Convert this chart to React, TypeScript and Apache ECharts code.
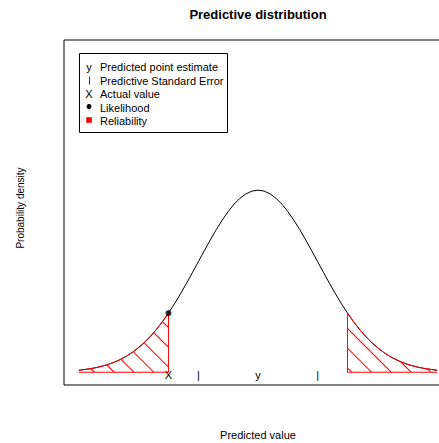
import React, { useEffect, useRef } from "react";
import * as echarts from "echarts";

// Standardised predicted values (in units of the predictive standard error)
const predictedX = [
  -3.0, -2.9, -2.8, -2.7, -2.6, -2.5, -2.4, -2.3, -2.2, -2.1,
  -2.0, -1.9, -1.8, -1.7, -1.6, -1.5, -1.4, -1.3, -1.2, -1.1,
  -1.0, -0.9, -0.8, -0.7, -0.6, -0.5, -0.4, -0.3, -0.2, -0.1,
  0.0, 0.1, 0.2, 0.3, 0.4, 0.5, 0.6, 0.7, 0.8, 0.9,
  1.0, 1.1, 1.2, 1.3, 1.4, 1.5, 1.6, 1.7, 1.8, 1.9,
  2.0, 2.1, 2.2, 2.3, 2.4, 2.5, 2.6, 2.7, 2.8, 2.9, 3.0,
];

// Probability density of the predictive distribution at each value
const density = [
  0.0044, 0.006, 0.0079, 0.0104, 0.0136, 0.0175, 0.0224, 0.0283, 0.0355, 0.044,
  0.054, 0.0656, 0.079, 0.094, 0.1109, 0.1295, 0.1497, 0.1714, 0.1942, 0.2179,
  0.242, 0.2661, 0.2897, 0.3123, 0.3332, 0.3521, 0.3683, 0.3814, 0.391, 0.397,
  0.3989, 0.397, 0.391, 0.3814, 0.3683, 0.3521, 0.3332, 0.3123, 0.2897, 0.2661,
  0.242, 0.2179, 0.1942, 0.1714, 0.1497, 0.1295, 0.1109, 0.094, 0.079, 0.0656,
  0.054, 0.044, 0.0355, 0.0283, 0.0224, 0.0175, 0.0136, 0.0104, 0.0079, 0.006, 0.0044,
];

const pointEstimate = 0;
const standardError = 1;
const actualValue = -1.5;
const likelihood = 0.1295;

const baselineMarks = [
  { x: actualValue, label: "X" },
  { x: pointEstimate - standardError, label: "|" },
  { x: pointEstimate + standardError, label: "|" },
  { x: pointEstimate, label: "y" },
];

const legendLabels = [
  "Predicted point estimate",
  "Predictive Standard Error",
  "Actual value",
  "Likelihood",
  "Reliability",
];

const FONT = "'Liberation Sans', Arial, Helvetica, sans-serif";

export default function App() {
  const ref = useRef<HTMLDivElement>(null);

  useEffect(() => {
    if (!ref.current) return;
    document.body.style.overflow = "hidden";
    const chart = echarts.init(ref.current, null, { renderer: "svg" });

    const curve = predictedX.map((x, i) => [x, density[i]]);
    const mirror = 2 * pointEstimate - actualValue;
    const lowX = Math.min(actualValue, mirror);
    const highX = Math.max(actualValue, mirror);
    const leftTail = curve.filter((p) => p[0] <= lowX + 1e-9);
    const rightTail = curve.filter((p) => p[0] >= highX - 1e-9);
    const first = predictedX[0];
    const last = predictedX[predictedX.length - 1];
    const lowDensity = leftTail[leftTail.length - 1][1];
    const highDensity = rightTail[0][1];

    // diagonal red hatching for the reliability tails
    const hatch = {
      symbol: "rect",
      symbolSize: 1,
      color: "#ff0000",
      backgroundColor: "rgba(0,0,0,0)",
      dashArrayX: [1, 0],
      dashArrayY: [1, 12.4],
      rotation: Math.PI / 4,
    };

    const tailSeries = (data: number[][]) => ({
      type: "line",
      data,
      symbol: "none",
      silent: true,
      z: 3,
      lineStyle: { color: "#ff0000", width: 1, decal: hatch },
      itemStyle: { color: "#ff0000", decal: hatch },
      areaStyle: { color: "rgba(255,0,0,0)", opacity: 1, origin: "auto", decal: hatch },
    });

    const edgeSeries = (data: number[][]) => ({
      type: "line",
      data,
      symbol: "none",
      silent: true,
      z: 3,
      lineStyle: { color: "#ff0000", width: 1 },
    });

    const legendRowY = [67, 80.5, 94, 107.5, 121];
    const legendGraphics: any[] = [
      {
        type: "rect",
        shape: { x: 79.5, y: 53.5, width: 148, height: 79 },
        style: { fill: "#fff", stroke: "#000", lineWidth: 1 },
        z: 100,
      },
    ];
    legendLabels.forEach((label, i) => {
      legendGraphics.push({
        type: "text",
        x: 100,
        y: legendRowY[i],
        z: 101,
        style: {
          text: label,
          font: `11px ${FONT}`,
          fill: "#000",
          textAlign: "left",
          textVerticalAlign: "middle",
        },
      });
    });
    const symbolX = 89;
    legendGraphics.push(
      {
        type: "text", x: symbolX, y: legendRowY[0], z: 101,
        style: { text: "y", font: `11px ${FONT}`, fill: "#000", textAlign: "center", textVerticalAlign: "middle" },
      },
      {
        type: "line", z: 101,
        shape: { x1: symbolX + 0.5, y1: legendRowY[1] - 4, x2: symbolX + 0.5, y2: legendRowY[1] + 4 },
        style: { stroke: "#333", lineWidth: 1 },
      },
      {
        type: "text", x: symbolX, y: legendRowY[2], z: 101,
        style: { text: "X", font: `11px ${FONT}`, fill: "#000", textAlign: "center", textVerticalAlign: "middle" },
      },
      {
        type: "circle", z: 101,
        shape: { cx: symbolX, cy: legendRowY[3] - 1, r: 2.5 },
        style: { fill: "#000" },
      },
      {
        type: "rect", z: 101,
        shape: { x: symbolX - 2.8, y: legendRowY[4] - 3.8, width: 5.6, height: 5.6 },
        style: { fill: "#ff0000" },
      }
    );

    const option: any = {
      animation: false,
      grid: {
        left: 64,
        top: 40,
        right: 0,
        bottom: 58,
        show: true,
        borderColor: "#000",
        borderWidth: 1,
        backgroundColor: "rgba(0,0,0,0)",
      },
      xAxis: { type: "value", min: -3.25, max: 3.25, show: false },
      yAxis: { type: "value", min: -0.028, max: 0.728, show: false },
      graphic: [
        {
          type: "text", x: 258, y: 14,
          style: {
            text: "Predictive distribution", font: `bold 13px ${FONT}`, fill: "#000",
            textAlign: "center", textVerticalAlign: "middle",
          },
        },
        {
          type: "text", x: 258, y: 435,
          style: {
            text: "Predicted value", font: `11px ${FONT}`, fill: "#000",
            textAlign: "center", textVerticalAlign: "middle",
          },
        },
        {
          type: "text", x: 20, y: 208, rotation: Math.PI / 2,
          style: {
            text: "Probability density", font: `10px ${FONT}`, fill: "#000",
            textAlign: "center", textVerticalAlign: "middle",
          },
        },
        ...legendGraphics,
      ],
      series: [
        {
          type: "line",
          data: curve,
          symbol: "none",
          silent: true,
          z: 2,
          lineStyle: { color: "#000", width: 1 },
        },
        tailSeries(leftTail),
        tailSeries(rightTail),
        edgeSeries([[first, 0], [lowX, 0], [lowX, lowDensity]]),
        edgeSeries([[highX, highDensity], [highX, 0], [last, 0]]),
        {
          type: "scatter",
          data: [[actualValue, likelihood]],
          symbol: "circle",
          symbolSize: 6,
          silent: true,
          z: 5,
          itemStyle: { color: "#000" },
        },
        {
          type: "custom",
          silent: true,
          z: 5,
          itemStyle: { color: "#000" },
          data: baselineMarks.map((m) => [m.x, 0]),
          renderItem: (params: any, api: any) => {
            const p = api.coord([api.value(0), 0]);
            return {
              type: "text",
              x: p[0],
              y: p[1] + 3,
              style: {
                text: baselineMarks[params.dataIndex].label,
                font: `11px ${FONT}`,
                fill: "#000",
                textAlign: "center",
                textVerticalAlign: "middle",
              },
            };
          },
        },
      ],
    };

    chart.setOption(option);
    return () => chart.dispose();
  }, []);

  return (
    <div
      ref={ref}
      style={{ position: "fixed", left: 0, top: 0, width: 452, height: 443, background: "#fff" }}
    />
  );
}
